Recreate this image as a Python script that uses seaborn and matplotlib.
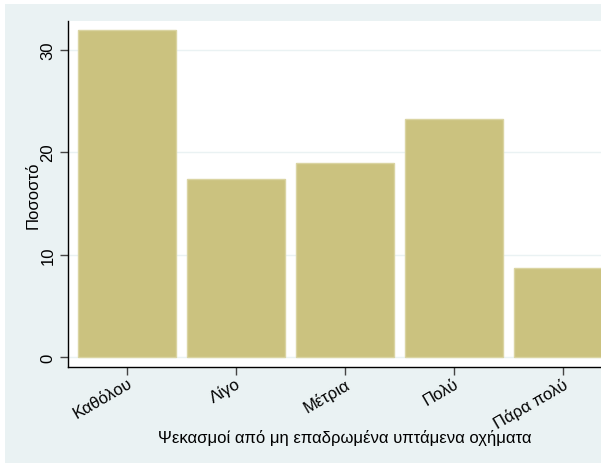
import matplotlib.pyplot as plt
import seaborn as sns
import pandas as pd
from matplotlib.patches import Rectangle

# Response categories and percentages
categories = ["Καθόλου", "Λίγο", "Μέτρια", "Πολύ", "Πάρα πολύ"]
percent = [31.9, 17.4, 18.9, 23.2, 8.7]
y_ticks = [0, 10, 20, 30]

df = pd.DataFrame({"category": categories, "percent": percent})

sns.set_theme(style="white")
plt.rcParams['font.family'] = ['Liberation Sans', 'DejaVu Sans']
plt.rcParams['text.color'] = 'black'
plt.rcParams['axes.labelcolor'] = 'black'
plt.rcParams['xtick.color'] = 'black'
plt.rcParams['ytick.color'] = 'black'

fig = plt.figure(figsize=(6.01, 4.64), dpi=100)
# Stata-like outer background with a thin white margin top/left
fig.patches.append(Rectangle((5 / 601, 0), 1, 1 - 5 / 464, transform=fig.transFigure,
                             facecolor="#EAF2F3", edgecolor="none", zorder=-10))

ax = fig.add_axes([68 / 601, 1 - 368 / 464, (601 - 68) / 601, (368 - 22) / 464])
ax.set_facecolor("white")

sns.barplot(data=df, x="category", y="percent", color="#CBC27F", width=0.9,
            saturation=1, edgecolor="#DAD4A2", linewidth=1.0, ax=ax, zorder=2)

ax.set_xlim(-0.54, 4.35)
ax.set_ylim(-0.98, 32.8)
ax.set_yticks(y_ticks)
ax.set_yticklabels([str(t) for t in y_ticks], rotation=90, va="center", fontsize=12)
ax.grid(axis="y", color="#EAF2F3", linewidth=1, zorder=0)
ax.set_axisbelow(True)

ax.set_xticks(range(len(categories)))
ax.set_xticklabels(categories, rotation=30, ha="right", va="top",
                   rotation_mode="anchor", fontsize=12)

for side in ["top", "right"]:
    ax.spines[side].set_visible(False)
for side in ["left", "bottom"]:
    ax.spines[side].set_color("black")
    ax.spines[side].set_linewidth(1)

ax.tick_params(axis="both", direction="out", length=6, width=1, color="#444444", pad=3,
               left=True, bottom=True)
ax.tick_params(axis="x", pad=0)

ax.set_xlabel("Ψεκασμοί από μη επαδρωμένα υπτάμενα οχήματα", fontsize=12, va="center")
ax.xaxis.set_label_coords(0.52, -0.202)
ax.set_ylabel("Ποσοστό", fontsize=12, labelpad=0)

fig.savefig("out.png", dpi=100)
